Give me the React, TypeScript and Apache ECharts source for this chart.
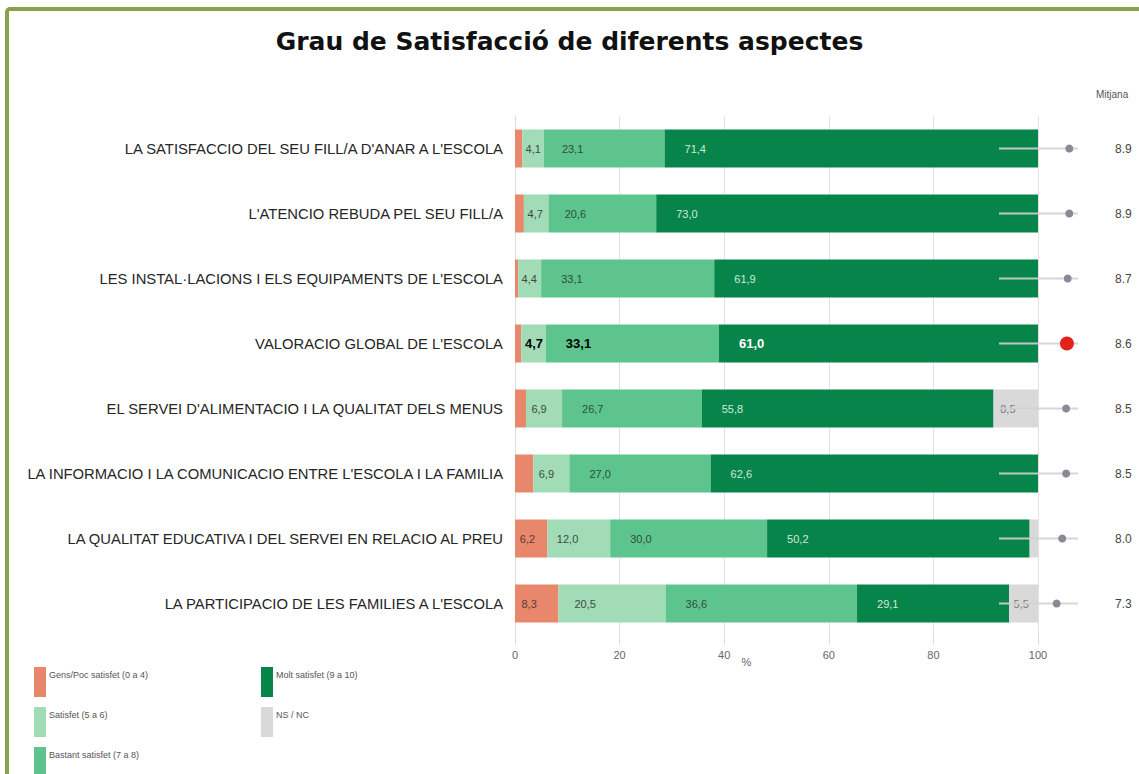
import React, { useEffect, useRef } from "react";
import * as echarts from "echarts";

const categories = [
  "LA SATISFACCIO DEL SEU FILL/A D'ANAR A L'ESCOLA",
  "L'ATENCIO REBUDA PEL SEU FILL/A",
  "LES INSTAL·LACIONS I ELS EQUIPAMENTS DE L'ESCOLA",
  "VALORACIO GLOBAL DE L'ESCOLA",
  "EL SERVEI D'ALIMENTACIO I LA QUALITAT DELS MENUS",
  "LA INFORMACIO I LA COMUNICACIO ENTRE L'ESCOLA I LA FAMILIA",
  "LA QUALITAT EDUCATIVA I DEL SERVEI EN RELACIO AL PREU",
  "LA PARTICIPACIO DE LES FAMILIES A L'ESCOLA",
];

const seriesNames = [
  "Gens/Poc satisfet (0 a 4)",
  "Satisfet (5 a 6)",
  "Bastant satisfet (7 a 8)",
  "Molt satisfet (9 a 10)",
  "NS / NC",
];

const gensPoc = [1.4, 1.7, 0.6, 1.2, 2.1, 3.5, 6.2, 8.3];
const satisfet = [4.1, 4.7, 4.4, 4.7, 6.9, 6.9, 12.0, 20.5];
const bastant = [23.1, 20.6, 33.1, 33.1, 26.7, 27.0, 30.0, 36.6];
const molt = [71.4, 73.0, 61.9, 61.0, 55.8, 62.6, 50.2, 29.1];
const nsnc = [0, 0, 0, 0, 8.5, 0, 1.6, 5.5];

const means = [8.9, 8.9, 8.7, 8.6, 8.5, 8.5, 8.0, 7.3];
const highlightIndex = 3;

const xTickMin = 0;
const xTickMax = 100;
const xTickStep = 20;
const meanMin = 0;
const meanMax = 10;

const colors = ["#e8876b", "#a2dcb6", "#5ec48e", "#07844a", "#d9d9d9"];
const labelColors = ["#5b3b30", "#3c4a40", "#2c4e3a", "#cfe9d9", "#777777"];
const labelColorsBold = ["#000000", "#000000", "#000000", "#ffffff", "#000000"];

export default function App() {
  const ref = useRef<HTMLDivElement>(null);

  useEffect(() => {
    const chart = echarts.init(ref.current!, null, { renderer: "svg" });
    const gridLeft = 515;
    const gridWidth = 523;
    const pxPerUnit = gridWidth / (xTickMax - xTickMin);

    const allValues = [gensPoc, satisfet, bastant, molt, nsnc];

    const makeData = (vals: number[], sIdx: number) =>
      vals.map((v, i) => {
        const bold = i === highlightIndex;
        const w = v * pxPerUnit;
        return {
          value: v,
          label: {
            show: v >= 4,
            position: "insideLeft",
            distance: Math.max(2, Math.min(20, w * 0.15)),
            fontWeight: bold ? "bold" : "normal",
            fontSize: bold ? 13 : 11,
            fontFamily: "Liberation Sans, Arial, sans-serif",
            color: bold ? labelColorsBold[sIdx] : labelColors[sIdx],
            formatter: (p: any) => Number(p.value).toFixed(1).replace(".", ","),
          },
        };
      });

    const barSeries = seriesNames.map((name, sIdx) => ({
      name,
      type: "bar",
      stack: "total",
      xAxisIndex: 0,
      yAxisIndex: 0,
      barWidth: 38,
      itemStyle: { color: colors[sIdx] },
      data: makeData(allValues[sIdx], sIdx),
      z: 2,
    }));

    const legendBase = {
      orient: "vertical",
      top: 667,
      height: 300,
      padding: 0,
      itemGap: 10,
      itemWidth: 12,
      itemHeight: 30,
      icon: "rect",
      selectedMode: false,
      formatter: (name: string) => name + "\n ",
      textStyle: {
        fontFamily: "Liberation Sans, Arial, sans-serif",
        fontSize: 9,
        lineHeight: 15,
        color: "#555555",
        padding: [0, 0, 0, -2],
      },
    };

    const option: any = {
      animation: false,
      backgroundColor: "#ffffff",
      title: [
        {
          text: "Grau de Satisfacció de diferents aspectes",
          left: "center",
          top: 24,
          textStyle: {
            fontFamily: "DejaVu Sans, Verdana, sans-serif",
            fontWeight: "bold",
            fontSize: 25,
            color: "#111111",
          },
        },
        {
          text: "Mitjana",
          left: 1091,
          top: 84,
          textStyle: {
            fontFamily: "Liberation Sans, Arial, sans-serif",
            fontWeight: "normal",
            fontSize: 10,
            color: "#555555",
          },
        },
      ],
      legend: [
        { ...legendBase, data: seriesNames.slice(0, 3), left: 34 },
        { ...legendBase, data: seriesNames.slice(3), left: 261 },
      ],
      grid: [
        { left: gridLeft, top: 116, width: gridWidth, height: 520, containLabel: false },
        { left: 999, top: 116, width: 79, height: 520, containLabel: false },
      ],
      xAxis: [
        {
          type: "value",
          gridIndex: 0,
          min: xTickMin,
          max: xTickMax,
          interval: xTickStep,
          name: "%",
          nameLocation: "middle",
          nameGap: 20,
          nameMoveOverlap: false,
          nameTextStyle: {
            fontFamily: "Liberation Sans, Arial, sans-serif",
            fontSize: 11,
            color: "#666666",
            padding: [0, 60, 0, 0],
          },
          axisLine: { show: false },
          axisTick: { show: true, length: 9, lineStyle: { color: "#dddddd" } },
          splitLine: { show: true, lineStyle: { color: "#e2e2e2" } },
          axisLabel: {
            fontFamily: "Liberation Sans, Arial, sans-serif",
            fontSize: 11,
            color: "#666666",
            margin: 13,
          },
        },
        {
          type: "value",
          gridIndex: 1,
          min: meanMin,
          max: meanMax,
          show: false,
        },
      ],
      yAxis: [
        {
          type: "category",
          gridIndex: 0,
          data: categories,
          inverse: true,
          axisTick: { show: false },
          axisLine: { show: true, lineStyle: { color: "#dddddd" } },
          axisLabel: {
            fontFamily: "Liberation Sans, Arial, sans-serif",
            fontSize: 14.8,
            color: "#262626",
            margin: 12,
          },
        },
        {
          type: "category",
          gridIndex: 1,
          data: categories,
          inverse: true,
          position: "right",
          axisTick: { show: false },
          axisLine: { show: false },
          axisLabel: {
            fontFamily: "Liberation Sans, Arial, sans-serif",
            fontSize: 12,
            color: "#444444",
            margin: 37,
            formatter: (_v: string, i: number) => means[i].toFixed(1),
          },
        },
      ],
      series: [
        ...barSeries,
        {
          name: "Mitjana",
          type: "custom",
          xAxisIndex: 1,
          yAxisIndex: 1,
          z: 5,
          data: means.map((m, i) => [m, i]),
          renderItem: (params: any, api: any) => {
            const idx = api.value(1);
            const start = api.coord([meanMin, idx]);
            const end = api.coord([meanMax, idx]);
            const pt = api.coord([api.value(0), idx]);
            const hi = params.dataIndex === highlightIndex;
            return {
              type: "group",
              children: [
                {
                  type: "line",
                  shape: { x1: start[0], y1: start[1], x2: end[0], y2: end[1] },
                  style: { stroke: "rgba(210,210,210,0.9)", lineWidth: 2 },
                },
                {
                  type: "circle",
                  shape: { cx: pt[0], cy: pt[1], r: hi ? 7 : 4 },
                  style: { fill: hi ? "#e3231b" : "#8a8a96" },
                },
              ],
            };
          },
        },
      ],
      graphic: [
        {
          type: "rect",
          shape: { x: 7, y: 9, width: 1145, height: 785, r: 3 },
          style: { fill: "none", stroke: "#87a24b", lineWidth: 4 },
          silent: true,
        },
      ],
    };

    chart.setOption(option);
    return () => chart.dispose();
  }, []);

  return (
    <div
      ref={ref}
      style={{ position: "absolute", left: 0, top: 0, width: 1139, height: 774, background: "#fff" }}
    />
  );
}
